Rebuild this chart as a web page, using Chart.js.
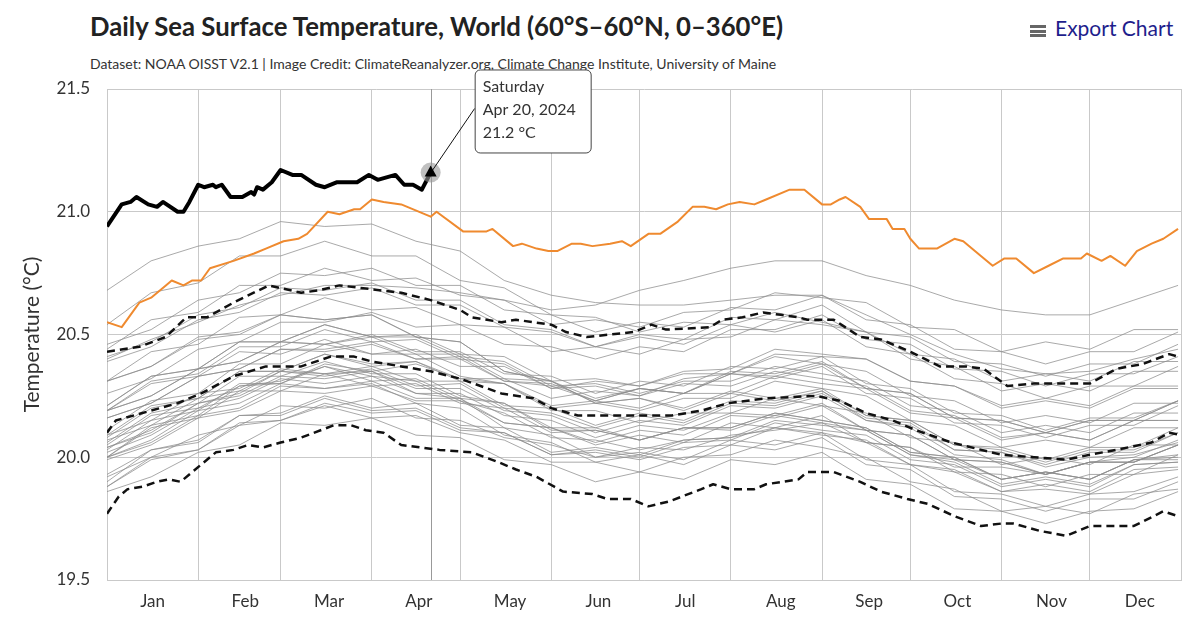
<!DOCTYPE html>
<html>
<head>
<meta charset="utf-8">
<title>Daily Sea Surface Temperature, World</title>
<script src="https://cdn.jsdelivr.net/npm/chart.js@4.4.1/dist/chart.umd.min.js"></script>
<style>
    body { margin: 0; background: #fff; }
    #wrap { position: relative; width: 1200px; height: 623px; font-family: Lato, sans-serif; }
    #title { position: absolute; left: 90px; top: 11px; font-size: 25.7px; line-height: 30px; font-weight: 700; color: #222; white-space: nowrap; }
    #subtitle { position: absolute; left: 90px; top: 56px; font-size: 14px; line-height: 16px; color: #333; white-space: nowrap; }
    #exportBtn { position: absolute; left: 1030px; top: 14px; font-size: 21px; line-height: 28px; color: #1e1e8c; white-space: nowrap; }
    #exportBtn .burger { display: inline-block; width: 16px; height: 12px; margin-right: 9px; vertical-align: -1px;
        background: linear-gradient(#666 0 3px, transparent 3px 4.5px, #666 4.5px 7.5px, transparent 7.5px 9px, #666 9px 12px); }
    #sstChart { position: absolute; left: 0; top: 0; }
</style>
</head>
<body>
<div id="wrap">
    <div id="title">Daily Sea Surface Temperature, World (60°S–60°N, 0–360°E)</div>
    <div id="subtitle">Dataset: NOAA OISST V2.1 | Image Credit: ClimateReanalyzer.org, Climate Change Institute, University of Maine</div>
    <div id="exportBtn"><span class="burger"></span>Export Chart</div>
    <canvas id="sstChart" width="1200" height="623"></canvas>
</div>
<script>
// month axis
const monthNames = ['Jan', 'Feb', 'Mar', 'Apr', 'May', 'Jun', 'Jul', 'Aug', 'Sep', 'Oct', 'Nov', 'Dec'];
const monthStartDays = [0, 31, 59, 90, 120, 151, 181, 212, 243, 273, 304, 334, 365];
const monthLabelDays = [15.5, 47, 75.5, 106, 137, 167, 196.5, 229, 259, 289, 321, 351];
const yTicks = [19.5, 20, 20.5, 21, 21.5];

// 2024 (through Apr 20)
const days2024 = [0, 5, 8, 10, 14, 17, 19, 24, 26, 28, 31, 33, 36, 37, 39, 42, 46, 49, 50, 51, 53, 56, 59, 63, 66, 71, 74, 78, 85, 89, 92, 95, 98, 101, 104, 107, 110];
const temps2024 = [20.94, 21.03, 21.04, 21.06, 21.03, 21.02, 21.04, 21.00, 21.00, 21.04, 21.11, 21.10, 21.11, 21.10, 21.11, 21.06, 21.06, 21.08, 21.07, 21.10, 21.09, 21.12, 21.17, 21.15, 21.15, 21.11, 21.10, 21.12, 21.12, 21.15, 21.13, 21.14, 21.15, 21.11, 21.11, 21.09, 21.16];

// 2023
const days2023 = [0, 5, 11, 15, 20, 22, 26, 29, 32, 35, 43, 50, 54, 60, 65, 68, 75, 79, 84, 86, 90, 94, 100, 110, 112, 121, 129, 131, 138, 141, 146, 150, 153, 158, 161, 165, 171, 175, 178, 184, 188, 194, 199, 203, 207, 211, 215, 220, 224, 232, 237, 243, 246, 249, 251, 256, 259, 265, 267, 271, 273, 276, 282, 288, 291, 297, 301, 305, 309, 315, 320, 325, 331, 333, 338, 341, 346, 350, 355, 359, 364];
const temps2023 = [20.55, 20.53, 20.63, 20.65, 20.70, 20.72, 20.70, 20.72, 20.72, 20.77, 20.80, 20.83, 20.85, 20.88, 20.89, 20.91, 21.00, 20.99, 21.01, 21.01, 21.05, 21.04, 21.03, 20.98, 21.00, 20.92, 20.92, 20.93, 20.86, 20.87, 20.85, 20.84, 20.84, 20.87, 20.87, 20.86, 20.87, 20.88, 20.86, 20.91, 20.91, 20.96, 21.02, 21.02, 21.01, 21.03, 21.04, 21.03, 21.05, 21.09, 21.09, 21.03, 21.03, 21.05, 21.06, 21.02, 20.97, 20.97, 20.93, 20.93, 20.89, 20.85, 20.85, 20.89, 20.88, 20.82, 20.78, 20.81, 20.81, 20.75, 20.78, 20.81, 20.81, 20.83, 20.80, 20.82, 20.78, 20.84, 20.87, 20.89, 20.93];

// 1982-2011 mean and +/- 2 sigma
const daysUpper = [0, 11, 20, 27, 34, 43, 55, 66, 72, 79, 86, 100, 110, 120, 124, 134, 139, 145, 151, 156, 163, 179, 185, 190, 205, 209, 216, 223, 229, 235, 238, 247, 256, 263, 273, 283, 292, 298, 306, 315, 334, 343, 352, 361, 364];
const upperSigma = [20.43, 20.45, 20.49, 20.57, 20.57, 20.63, 20.70, 20.67, 20.68, 20.70, 20.69, 20.67, 20.64, 20.60, 20.57, 20.55, 20.56, 20.55, 20.54, 20.51, 20.49, 20.51, 20.54, 20.52, 20.53, 20.56, 20.57, 20.59, 20.58, 20.57, 20.56, 20.56, 20.49, 20.48, 20.43, 20.37, 20.37, 20.36, 20.29, 20.30, 20.30, 20.36, 20.38, 20.42, 20.41];
const daysMean = [0, 3, 15, 24, 32, 43, 54, 66, 76, 84, 90, 100, 110, 120, 134, 145, 151, 160, 179, 192, 202, 211, 224, 241, 249, 258, 267, 275, 287, 304, 315, 326, 334, 343, 355, 361, 365];
const meanTemps = [20.10, 20.15, 20.19, 20.22, 20.26, 20.33, 20.37, 20.37, 20.41, 20.41, 20.39, 20.37, 20.35, 20.32, 20.26, 20.24, 20.20, 20.17, 20.17, 20.17, 20.19, 20.22, 20.24, 20.25, 20.23, 20.18, 20.15, 20.11, 20.06, 20.01, 20.00, 19.99, 20.01, 20.03, 20.06, 20.10, 20.09];
const daysLower = [0, 4, 7, 12, 17, 21, 25, 32, 37, 43, 48, 53, 59, 66, 77, 83, 88, 94, 100, 113, 124, 133, 139, 146, 152, 155, 165, 170, 178, 184, 191, 202, 206, 212, 220, 224, 235, 238, 247, 256, 263, 272, 279, 288, 297, 304, 308, 317, 326, 334, 343, 349, 359, 364];
const lowerSigma = [19.77, 19.84, 19.87, 19.88, 19.90, 19.91, 19.90, 19.97, 20.02, 20.03, 20.05, 20.04, 20.06, 20.08, 20.13, 20.13, 20.11, 20.10, 20.05, 20.03, 20.02, 19.98, 19.95, 19.92, 19.88, 19.86, 19.85, 19.83, 19.83, 19.80, 19.82, 19.87, 19.89, 19.87, 19.87, 19.89, 19.91, 19.94, 19.94, 19.90, 19.86, 19.83, 19.81, 19.76, 19.72, 19.73, 19.73, 19.70, 19.68, 19.72, 19.72, 19.72, 19.78, 19.76];

// earlier years, sampled twice a month
const grayDays = [0, 15, 31, 45, 59, 74, 90, 105, 120, 135, 151, 166, 181, 196, 212, 227, 243, 258, 273, 288, 304, 319, 334, 349, 364];
const y1982 = [19.92, 20.00, 20.09, 20.13, 20.21, 20.20, 20.24, 20.16, 20.15, 20.08, 20.05, 20.00, 20.04, 20.03, 20.09, 20.11, 20.14, 20.06, 20.04, 19.96, 19.96, 19.93, 19.98, 20.00, 20.07];
const y1983 = [20.05, 20.17, 20.20, 20.29, 20.31, 20.37, 20.33, 20.31, 20.23, 20.18, 20.08, 20.07, 20.03, 20.07, 20.08, 20.12, 20.10, 20.06, 19.97, 19.94, 19.86, 19.87, 19.85, 19.93, 19.95];
const y1984 = [19.88, 19.99, 20.03, 20.13, 20.15, 20.21, 20.16, 20.17, 20.10, 20.07, 19.98, 19.98, 19.94, 20.00, 20.01, 20.07, 20.04, 20.00, 19.90, 19.87, 19.78, 19.80, 19.77, 19.85, 19.87];
const y1985 = [19.86, 19.92, 20.02, 20.05, 20.14, 20.13, 20.16, 20.09, 20.08, 19.99, 19.97, 19.90, 19.94, 19.91, 19.99, 19.97, 20.02, 19.91, 19.89, 19.79, 19.78, 19.73, 19.78, 19.79, 19.86];
const y1986 = [19.93, 20.03, 20.07, 20.17, 20.18, 20.25, 20.20, 20.22, 20.13, 20.12, 20.02, 20.04, 20.01, 20.07, 20.08, 20.15, 20.13, 20.11, 20.01, 19.99, 19.91, 19.94, 19.91, 19.99, 20.01];
const y1987 = [20.04, 20.11, 20.22, 20.26, 20.35, 20.33, 20.36, 20.29, 20.30, 20.20, 20.18, 20.12, 20.17, 20.14, 20.22, 20.21, 20.26, 20.16, 20.14, 20.03, 20.02, 19.96, 20.00, 20.01, 20.06];
const y1988 = [20.09, 20.15, 20.26, 20.28, 20.36, 20.34, 20.35, 20.26, 20.24, 20.12, 20.09, 20.00, 20.02, 19.99, 20.07, 20.05, 20.10, 19.99, 19.97, 19.86, 19.85, 19.80, 19.85, 19.86, 19.92];
const y1989 = [19.88, 20.00, 20.03, 20.14, 20.15, 20.22, 20.18, 20.19, 20.11, 20.10, 20.01, 20.03, 20.00, 20.06, 20.07, 20.14, 20.11, 20.09, 19.99, 19.97, 19.88, 19.91, 19.88, 19.97, 19.98];
const y1990 = [20.02, 20.09, 20.20, 20.24, 20.32, 20.30, 20.33, 20.26, 20.26, 20.17, 20.15, 20.08, 20.13, 20.11, 20.18, 20.17, 20.22, 20.11, 20.09, 19.99, 19.98, 19.93, 19.98, 19.98, 20.05];
const y1991 = [20.03, 20.15, 20.19, 20.30, 20.30, 20.37, 20.31, 20.32, 20.24, 20.22, 20.11, 20.11, 20.07, 20.12, 20.12, 20.18, 20.15, 20.12, 20.02, 20.00, 19.91, 19.94, 19.91, 19.99, 20.00];
const y1992 = [20.00, 20.07, 20.19, 20.22, 20.30, 20.28, 20.30, 20.22, 20.20, 20.09, 20.06, 19.98, 20.01, 19.97, 20.05, 20.03, 20.08, 19.97, 19.95, 19.84, 19.83, 19.78, 19.83, 19.83, 19.90];
const y1993 = [19.90, 20.03, 20.06, 20.17, 20.17, 20.24, 20.19, 20.20, 20.12, 20.10, 20.01, 20.02, 19.99, 20.04, 20.05, 20.12, 20.09, 20.07, 19.97, 19.95, 19.86, 19.89, 19.86, 19.95, 19.96];
const y1994 = [19.99, 20.05, 20.16, 20.19, 20.27, 20.26, 20.29, 20.23, 20.23, 20.14, 20.12, 20.06, 20.11, 20.09, 20.17, 20.16, 20.21, 20.11, 20.09, 19.99, 19.98, 19.93, 19.98, 19.98, 20.05];
const y1995 = [20.06, 20.18, 20.22, 20.33, 20.33, 20.39, 20.34, 20.34, 20.25, 20.22, 20.12, 20.12, 20.07, 20.12, 20.11, 20.17, 20.14, 20.11, 20.01, 19.98, 19.89, 19.92, 19.89, 19.97, 19.98];
const y1996 = [20.00, 20.06, 20.17, 20.20, 20.29, 20.28, 20.31, 20.24, 20.24, 20.14, 20.12, 20.05, 20.09, 20.06, 20.14, 20.12, 20.17, 20.06, 20.04, 19.94, 19.93, 19.88, 19.93, 19.93, 20.01];
const y1997 = [20.00, 20.13, 20.17, 20.29, 20.30, 20.38, 20.35, 20.38, 20.32, 20.32, 20.24, 20.27, 20.25, 20.32, 20.34, 20.42, 20.41, 20.40, 20.31, 20.29, 20.21, 20.24, 20.21, 20.29, 20.29];
const y1998 = [20.31, 20.37, 20.49, 20.51, 20.58, 20.56, 20.58, 20.49, 20.47, 20.35, 20.31, 20.22, 20.24, 20.19, 20.26, 20.23, 20.27, 20.15, 20.12, 20.01, 19.99, 19.93, 19.98, 19.98, 20.05];
const y1999 = [20.00, 20.12, 20.16, 20.27, 20.27, 20.34, 20.29, 20.30, 20.22, 20.20, 20.10, 20.11, 20.07, 20.12, 20.12, 20.18, 20.15, 20.12, 20.02, 20.00, 19.91, 19.94, 19.91, 19.99, 19.99];
const y2000 = [20.04, 20.10, 20.22, 20.25, 20.33, 20.32, 20.35, 20.28, 20.28, 20.19, 20.17, 20.10, 20.15, 20.13, 20.21, 20.20, 20.25, 20.15, 20.13, 20.03, 20.02, 19.97, 20.02, 20.02, 20.10];
const y2001 = [20.08, 20.20, 20.24, 20.35, 20.35, 20.42, 20.38, 20.39, 20.32, 20.30, 20.21, 20.23, 20.20, 20.26, 20.26, 20.33, 20.30, 20.28, 20.18, 20.16, 20.07, 20.10, 20.07, 20.15, 20.15];
const y2002 = [20.19, 20.25, 20.36, 20.39, 20.47, 20.46, 20.50, 20.43, 20.43, 20.34, 20.33, 20.26, 20.31, 20.29, 20.37, 20.36, 20.41, 20.30, 20.28, 20.18, 20.17, 20.11, 20.16, 20.16, 20.23];
const y2003 = [20.21, 20.33, 20.36, 20.47, 20.47, 20.54, 20.49, 20.49, 20.41, 20.39, 20.29, 20.30, 20.26, 20.31, 20.31, 20.37, 20.34, 20.31, 20.21, 20.19, 20.10, 20.13, 20.10, 20.18, 20.18];
const y2004 = [20.19, 20.25, 20.36, 20.39, 20.47, 20.46, 20.49, 20.42, 20.42, 20.32, 20.31, 20.24, 20.28, 20.26, 20.34, 20.32, 20.37, 20.26, 20.24, 20.14, 20.13, 20.08, 20.13, 20.13, 20.21];
const y2005 = [20.19, 20.31, 20.34, 20.45, 20.45, 20.52, 20.47, 20.48, 20.40, 20.38, 20.28, 20.29, 20.25, 20.30, 20.29, 20.35, 20.32, 20.29, 20.19, 20.17, 20.08, 20.10, 20.07, 20.15, 20.15];
const y2006 = [20.16, 20.22, 20.33, 20.36, 20.44, 20.43, 20.46, 20.40, 20.40, 20.31, 20.29, 20.23, 20.28, 20.26, 20.34, 20.33, 20.38, 20.28, 20.26, 20.16, 20.15, 20.10, 20.15, 20.15, 20.23];
const y2007 = [20.19, 20.30, 20.33, 20.43, 20.42, 20.48, 20.42, 20.42, 20.33, 20.30, 20.19, 20.19, 20.14, 20.18, 20.18, 20.24, 20.21, 20.18, 20.08, 20.06, 19.97, 20.00, 19.97, 20.05, 20.05];
const y2008 = [20.07, 20.13, 20.24, 20.27, 20.35, 20.34, 20.37, 20.31, 20.31, 20.21, 20.20, 20.13, 20.18, 20.15, 20.23, 20.22, 20.27, 20.17, 20.15, 20.05, 20.04, 19.99, 20.04, 20.04, 20.12];
const y2009 = [20.11, 20.23, 20.26, 20.38, 20.38, 20.46, 20.42, 20.44, 20.37, 20.37, 20.28, 20.31, 20.29, 20.35, 20.36, 20.44, 20.42, 20.40, 20.31, 20.29, 20.20, 20.23, 20.20, 20.28, 20.28];
const y2010 = [20.31, 20.37, 20.48, 20.50, 20.58, 20.56, 20.58, 20.49, 20.47, 20.35, 20.31, 20.22, 20.24, 20.20, 20.27, 20.24, 20.28, 20.17, 20.15, 20.05, 20.03, 19.98, 20.03, 20.03, 20.10];
const y2011 = [20.09, 20.21, 20.24, 20.35, 20.35, 20.42, 20.37, 20.39, 20.31, 20.30, 20.20, 20.22, 20.19, 20.24, 20.24, 20.31, 20.28, 20.25, 20.15, 20.13, 20.04, 20.07, 20.04, 20.12, 20.12];
const y2012 = [20.16, 20.22, 20.33, 20.36, 20.44, 20.44, 20.47, 20.40, 20.41, 20.31, 20.30, 20.23, 20.28, 20.26, 20.35, 20.34, 20.39, 20.28, 20.26, 20.16, 20.15, 20.10, 20.15, 20.15, 20.23];
const y2013 = [20.21, 20.33, 20.36, 20.47, 20.47, 20.54, 20.49, 20.50, 20.42, 20.41, 20.31, 20.32, 20.29, 20.34, 20.34, 20.41, 20.38, 20.35, 20.25, 20.23, 20.14, 20.17, 20.14, 20.22, 20.22];
const y2014 = [20.26, 20.32, 20.44, 20.47, 20.55, 20.55, 20.59, 20.53, 20.54, 20.46, 20.45, 20.40, 20.45, 20.43, 20.52, 20.52, 20.58, 20.48, 20.46, 20.36, 20.35, 20.29, 20.34, 20.34, 20.41];
const y2015 = [20.40, 20.48, 20.55, 20.62, 20.66, 20.70, 20.70, 20.69, 20.67, 20.64, 20.60, 20.62, 20.68, 20.72, 20.77, 20.80, 20.80, 20.74, 20.70, 20.64, 20.60, 20.58, 20.58, 20.64, 20.70];
const y2016 = [20.68, 20.80, 20.86, 20.89, 20.96, 20.94, 20.95, 20.88, 20.84, 20.72, 20.66, 20.63, 20.62, 20.62, 20.64, 20.66, 20.66, 20.58, 20.50, 20.42, 20.36, 20.34, 20.35, 20.40, 20.44];
const y2017 = [20.41, 20.47, 20.58, 20.61, 20.69, 20.68, 20.71, 20.64, 20.64, 20.54, 20.52, 20.45, 20.49, 20.46, 20.54, 20.51, 20.56, 20.45, 20.42, 20.32, 20.30, 20.24, 20.29, 20.29, 20.37];
const y2018 = [20.31, 20.43, 20.46, 20.57, 20.58, 20.65, 20.60, 20.61, 20.54, 20.53, 20.43, 20.45, 20.42, 20.48, 20.49, 20.56, 20.54, 20.51, 20.42, 20.40, 20.31, 20.34, 20.31, 20.39, 20.39];
const y2019 = [20.46, 20.52, 20.64, 20.67, 20.75, 20.74, 20.77, 20.70, 20.70, 20.60, 20.58, 20.51, 20.55, 20.53, 20.61, 20.60, 20.66, 20.56, 20.54, 20.44, 20.43, 20.38, 20.43, 20.43, 20.51];
const y2020 = [20.54, 20.67, 20.71, 20.82, 20.82, 20.88, 20.82, 20.82, 20.72, 20.69, 20.58, 20.57, 20.51, 20.55, 20.54, 20.59, 20.55, 20.51, 20.40, 20.37, 20.27, 20.30, 20.27, 20.35, 20.35];
const y2021 = [20.39, 20.45, 20.56, 20.59, 20.67, 20.66, 20.69, 20.62, 20.62, 20.53, 20.51, 20.45, 20.50, 20.48, 20.57, 20.56, 20.62, 20.51, 20.49, 20.39, 20.38, 20.33, 20.38, 20.38, 20.46];
const y2022 = [20.44, 20.56, 20.59, 20.70, 20.70, 20.77, 20.72, 20.73, 20.66, 20.64, 20.54, 20.56, 20.53, 20.59, 20.60, 20.67, 20.65, 20.63, 20.53, 20.52, 20.43, 20.47, 20.44, 20.52, 20.52];

const grayYears = [y1982, y1983, y1984, y1985, y1986, y1987, y1988, y1989, y1990, y1991,
    y1992, y1993, y1994, y1995, y1996, y1997, y1998, y1999, y2000, y2001,
    y2002, y2003, y2004, y2005, y2006, y2007, y2008, y2009, y2010, y2011,
    y2012, y2013, y2014, y2015, y2016, y2017, y2018, y2019, y2020, y2021, y2022];

function toPoints(days, vals) {
    return days.map((d, i) => ({ x: d, y: vals[i] }));
}

// hover callout on the last 2024 value, drawn by hand
const calloutPlugin = {
    id: 'callout',
    beforeDatasetsDraw(chart) {
        const meta = chart.getDatasetMeta(0);
        const pt = meta.data[meta.data.length - 1];
        const area = chart.chartArea;
        const c = chart.ctx;
        const x = Math.round(pt.x) + 0.5;
        c.save();
        c.strokeStyle = '#999';
        c.lineWidth = 1;
        c.beginPath();
        c.moveTo(x, area.top);
        c.lineTo(x, area.bottom);
        c.stroke();
        c.restore();
    },
    afterDatasetsDraw(chart) {
        const meta = chart.getDatasetMeta(0);
        const pt = meta.data[meta.data.length - 1];
        const px = pt.x, py = pt.y;
        const c = chart.ctx;
        const bx = px + 44, by = py - 103, bw = 116, bh = 83;

        c.save();
        // halo
        c.fillStyle = 'rgba(150,150,150,0.6)';
        c.beginPath();
        c.arc(px, py, 10, 0, Math.PI * 2);
        c.fill();
        // connector
        c.strokeStyle = '#111';
        c.lineWidth = 1;
        c.beginPath();
        c.moveTo(bx, by + 39);
        c.lineTo(px + 1, py - 1);
        c.stroke();
        // triangle marker
        c.fillStyle = '#000';
        c.beginPath();
        c.moveTo(px, py - 7);
        c.lineTo(px - 6, py + 4);
        c.lineTo(px + 6, py + 4);
        c.closePath();
        c.fill();
        // box
        c.fillStyle = '#fff';
        c.strokeStyle = '#444';
        c.beginPath();
        c.roundRect(bx + 0.5, by + 0.5, bw, bh, 5);
        c.fill();
        c.stroke();
        // text
        const d = new Date(2024, 0, 1 + days2024[days2024.length - 1]);
        const lines = [
            d.toLocaleDateString('en-US', { weekday: 'long' }),
            d.toLocaleDateString('en-US', { month: 'short', day: 'numeric', year: 'numeric' }),
            temps2024[temps2024.length - 1].toFixed(1) + ' °C'
        ];
        c.fillStyle = '#333';
        c.font = '16px Lato';
        c.textBaseline = 'middle';
        lines.forEach((t, i) => c.fillText(t, bx + 8, by + 17 + i * 23));
        c.restore();
    }
};

const datasets = [
    { label: '2024', data: toPoints(days2024, temps2024), borderColor: '#000', borderWidth: 4, order: 0 },
    { label: '2023', data: toPoints(days2023, temps2023), borderColor: '#ef8a2f', borderWidth: 2, order: 1 },
    { label: '+2σ', data: toPoints(daysUpper, upperSigma), borderColor: '#111', borderWidth: 2.5, borderDash: [8, 5], order: 2 },
    { label: 'Mean', data: toPoints(daysMean, meanTemps), borderColor: '#111', borderWidth: 2.5, borderDash: [8, 5], order: 2 },
    { label: '-2σ', data: toPoints(daysLower, lowerSigma), borderColor: '#111', borderWidth: 2.5, borderDash: [8, 5], order: 2 }
];
grayYears.forEach(function (vals, i) {
    datasets.push({
        label: String(1982 + i),
        data: toPoints(grayDays, vals),
        borderColor: 'rgba(140,140,140,0.75)',
        borderWidth: 1,
        order: 3
    });
});

const gridColor = '#c9c9c9';
var ctx = document.getElementById('sstChart').getContext('2d');
var sstChart = new Chart(ctx, {
    type: 'line',
    data: { datasets: datasets },
    plugins: [calloutPlugin],
    options: {
        responsive: false,
        animation: false,
        layout: { padding: { top: 89, right: 19, bottom: 0, left: 0 } },
        elements: {
            point: { radius: 0, hoverRadius: 0 },
            line: { tension: 0, borderJoinStyle: 'round', fill: false }
        },
        plugins: {
            legend: { display: false },
            tooltip: { enabled: false }
        },
        events: [],
        scales: {
            x: {
                type: 'linear',
                min: 0,
                max: 365,
                position: 'bottom',
                afterBuildTicks: function (scale) {
                    scale.ticks = monthLabelDays.map(v => ({ value: v }));
                },
                afterFit: function (scale) { scale.height = 43; },
                grid: { display: false },
                border: { display: true, color: gridColor },
                ticks: {
                    autoSkip: false,
                    maxRotation: 0,
                    padding: 3,
                    color: '#333',
                    font: { family: 'Lato', size: 17 },
                    callback: function (value, index) { return monthNames[index]; }
                }
            },
            xGrid: {
                type: 'linear',
                min: 0,
                max: 365,
                position: 'bottom',
                afterBuildTicks: function (scale) {
                    scale.ticks = monthStartDays.map(v => ({ value: v }));
                },
                afterFit: function (scale) { scale.height = 0; },
                grid: { color: gridColor, drawTicks: false },
                border: { display: false },
                ticks: { display: false }
            },
            y: {
                min: 19.5,
                max: 21.5,
                afterBuildTicks: function (scale) {
                    scale.ticks = yTicks.map(v => ({ value: v }));
                },
                afterFit: function (scale) { scale.width = 107; },
                grid: { color: gridColor, drawTicks: false },
                border: { display: true, color: gridColor },
                ticks: {
                    padding: 17,
                    color: '#333',
                    font: { family: 'Lato', size: 17 }
                },
                title: {
                    display: true,
                    text: 'Temperature (°C)',
                    color: '#333',
                    font: { family: 'Lato', size: 21 },
                    padding: { top: 20, bottom: 0 }
                }
            }
        }
    }
});
</script>
</body>
</html>
